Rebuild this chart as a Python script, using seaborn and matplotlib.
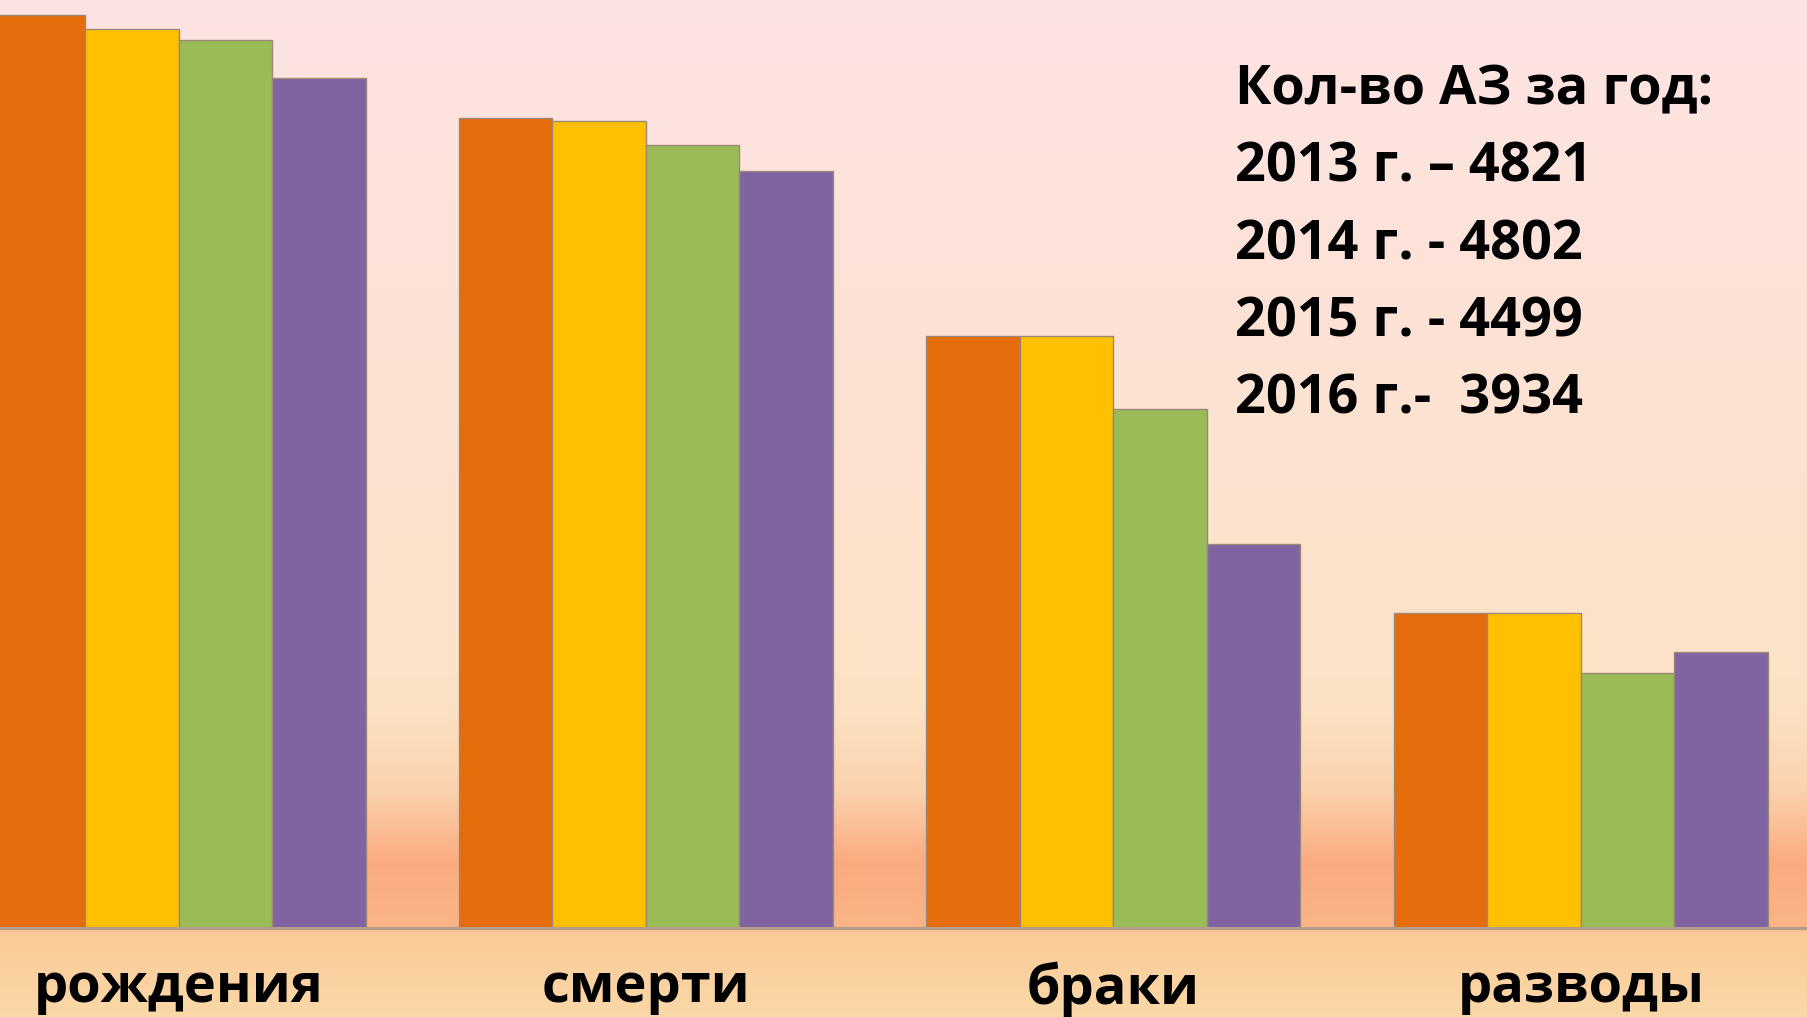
import numpy as np
import pandas as pd
import seaborn as sns
from matplotlib import pyplot as plt
from matplotlib.colors import to_rgb

categories = ["рождения", "смерти", "браки", "разводы"]
years = ["2013", "2014", "2015", "2016"]
values = {
    "2013": [1673, 1485, 1085, 577],
    "2014": [1648, 1479, 1085, 577],
    "2015": [1628, 1435, 951, 467],
    "2016": [1558, 1388, 704, 506],
}
note_lines = [
    "Кол-во АЗ за год:",
    "2013 г. – 4821",
    "2014 г. - 4802",
    "2015 г. - 4499",
    "2016 г.-  3934",
]
bar_colors = ["#E46C0A", "#FFC000", "#9BBB59", "#8064A2"]

sns.set_style("white")
plt.rcParams["font.family"] = ["Open Sans", "DejaVu Sans"]

rows = []
for year in years:
    for cat, val in zip(categories, values[year]):
        rows.append((cat, year, val))
df = pd.DataFrame(rows, columns=["category", "year", "value"])

W, H = 1808, 1017
fig = plt.figure(figsize=(W / 100, H / 100), dpi=100)

# background gradient, top pink -> peach -> orange band -> light orange
stops_y = [0, 400, 700, 790, 860, 925, 932, 1017]
stops_c = ["#FDE4E4", "#FCE2D2", "#FCE3C5", "#FBD2AE", "#FAAC80", "#FAB487",
           "#FACA98", "#FAD8A8"]
ys = np.arange(H)
rgb = np.array([to_rgb(c) for c in stops_c])
grad = np.stack([np.interp(ys, stops_y, rgb[:, k]) for k in range(3)], axis=1)
bg = fig.add_axes([0, 0, 1, 1], zorder=0)
bg.imshow(grad[:, None, :], aspect="auto", extent=(0, 1, 0, 1))
bg.set_axis_off()

base_y = 928
ax = fig.add_axes([0, (H - base_y) / H, 1, base_y / H], zorder=1)
ax.patch.set_alpha(0)
sns.barplot(data=df, x="category", y="value", hue="year", palette=bar_colors,
            width=0.8, edgecolor="#9C8878", linewidth=1.0, saturation=1,
            legend=False, ax=ax)

ax.set_xlim(-0.382, 3.486)
ax.set_ylim(0, 1701)
ax.set_xlabel("")
ax.set_ylabel("")
ax.set_yticks([])
for side in ["left", "right", "top"]:
    ax.spines[side].set_visible(False)
ax.spines["bottom"].set_color("#B59C86")
ax.spines["bottom"].set_linewidth(2.2)

ax.set_xticks(range(len(categories)))
ax.set_xticklabels(categories, fontsize=39, fontweight="bold", color="black")
ax.tick_params(axis="x", which="major", length=0, pad=24)
ax.set_xticks([0.5, 1.5, 2.5], minor=True)
ax.tick_params(axis="x", which="minor", length=6, width=2.2, color="#B59C86",
               direction="out")

for i, line in enumerate(note_lines):
    fig.text(1235 / W, 1 - (104 + i * 77.5) / H, line, fontsize=39,
             fontweight="bold", ha="left", va="baseline", color="black")

fig.savefig("out.png", dpi=100)
